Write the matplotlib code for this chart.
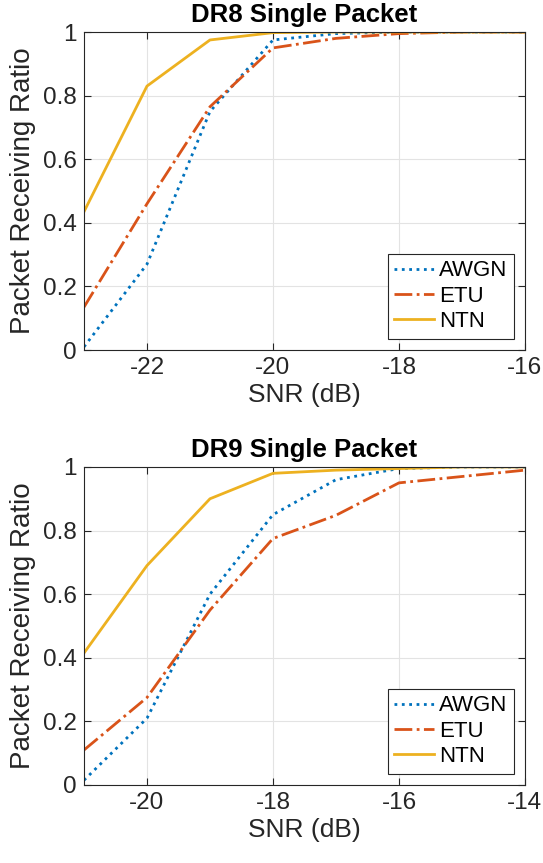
import matplotlib.pyplot as plt

plt.rcParams['font.family'] = ['Liberation Sans', 'DejaVu Sans']

# DR8 data
snr_dr8 = [-23, -22, -21, -20, -19, -18, -17, -16]
awgn_dr8 = [0.01, 0.27, 0.75, 0.975, 0.995, 1.0, 1.0, 1.0]
etu_dr8 = [0.135, 0.46, 0.765, 0.95, 0.98, 0.995, 1.0, 1.0]
ntn_dr8 = [0.435, 0.83, 0.975, 0.998, 1.0, 1.0, 1.0, 1.0]

# DR9 data
snr_dr9 = [-21, -20, -19, -18, -17, -16, -15, -14]
awgn_dr9 = [0.015, 0.21, 0.6, 0.85, 0.96, 0.995, 1.0, 1.0]
etu_dr9 = [0.11, 0.275, 0.55, 0.775, 0.848, 0.95, 0.97, 0.99]
ntn_dr9 = [0.415, 0.69, 0.9, 0.98, 0.99, 0.995, 1.0, 1.0]

colors = ['#0072BD', '#D95319', '#EDB120']
labels = ['AWGN', 'ETU', 'NTN']

fig = plt.figure(figsize=(5.43, 8.63), dpi=100)
ax1 = fig.add_axes([0.1547, 0.5944, 0.812, 0.3685])
ax2 = fig.add_axes([0.1547, 0.0904, 0.812, 0.3685])


def draw(ax, x, awgn, etu, ntn, title, xticks):
    ax.plot(x, awgn, color=colors[0], linestyle=':', linewidth=2, label=labels[0])
    ax.plot(x, etu, color=colors[1], linestyle='-.', linewidth=2, label=labels[1])
    ax.plot(x, ntn, color=colors[2], linestyle='-', linewidth=2, label=labels[2])
    ax.set_xlim(x[0], x[-1])
    ax.set_ylim(0, 1)
    ax.set_xticks(xticks)
    ax.set_yticks([0, 0.2, 0.4, 0.6, 0.8, 1])
    ax.set_yticklabels(['0', '0.2', '0.4', '0.6', '0.8', '1'])
    ax.set_xticklabels([str(t) for t in xticks])
    ax.grid(True, color='#e3e3e3', linewidth=0.8)
    ax.tick_params(labelsize=17.5, direction='in', length=5, color='#262626',
                   top=True, right=True, labelcolor='#262626', pad=5)
    for s in ax.spines.values():
        s.set_color('#262626')
        s.set_linewidth(0.8)
    ax.set_xlabel('SNR (dB)', fontsize=19, color='#262626', labelpad=3)
    ax.set_ylabel('Packet Receiving Ratio', fontsize=20, color='#262626', labelpad=5)
    ax.set_title(title, fontsize=18.5, fontweight='bold', pad=7)
    leg = ax.legend(loc='lower right', fontsize=16, fancybox=False, framealpha=1,
                    edgecolor='#262626', handlelength=1.8, handletextpad=0.2,
                    borderpad=0.3, labelspacing=0.2, borderaxespad=0.5)
    leg.get_frame().set_linewidth(0.8)


draw(ax1, snr_dr8, awgn_dr8, etu_dr8, ntn_dr8, 'DR8 Single Packet', [-22, -20, -18, -16])
draw(ax2, snr_dr9, awgn_dr9, etu_dr9, ntn_dr9, 'DR9 Single Packet', [-20, -18, -16, -14])

fig.savefig('out.png', dpi=100)
